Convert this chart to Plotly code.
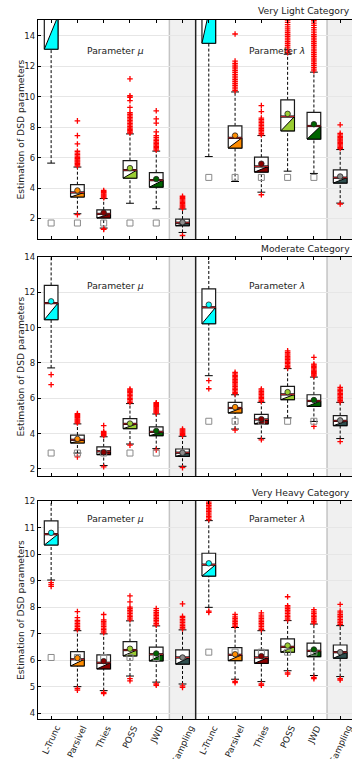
import plotly.graph_objects as go

# ---------------- data ----------------
positions = [1, 2, 3, 4, 5, 6, 7, 8, 9, 10, 11, 12]
tick_labels = ["L-Trunc", "Parsivel", "Thies", "POSS", "JWD", "Sampling",
               "L-Trunc", "Parsivel", "Thies", "POSS", "JWD", "Sampling"]
categories = ["Very Light Category", "Moderate Category", "Very Heavy Category"]
param_labels = ["Parameter <i>μ</i>", "Parameter <i>λ</i>"]

# Very Light
vl_q1 = [13.13, 3.41, 2.03, 4.65, 4.06, 1.52, 13.52, 6.63, 5.05, 7.76, 7.22, 4.33]
vl_med = [15.3, 3.71, 2.3, 5.18, 4.52, 1.72, 17.6, 7.3, 5.42, 8.7, 8.08, 4.68]
vl_q3 = [17.5, 4.22, 2.57, 5.81, 5.02, 1.96, 20.5, 8.09, 6.03, 9.8, 8.97, 5.2]
vl_lo = [5.64, 2.31, 1.37, 3.0, 2.64, 1.08, 6.07, 4.43, 3.73, 5.11, 4.96, 3.01]
vl_hi = [24.0, 5.38, 3.31, 7.56, 6.43, 2.62, 28.0, 10.32, 7.45, 12.8, 11.62, 6.53]
vl_mean = [16.2, 3.84, 2.38, 5.31, 4.59, 1.75, 18.5, 7.45, 5.6, 8.88, 8.2, 4.76]
vl_ref = [1.7, 1.7, 1.7, 1.7, 1.7, None, 4.7, 4.7, 4.7, 4.7, 4.7, None]
vl_out = [
    [],
    [5.45, 5.55, 5.62, 5.7, 5.78, 5.85, 5.93, 6.0, 6.1, 6.2, 6.3, 6.42, 6.9, 7.45, 8.42, 2.25],
    [3.36, 3.42, 3.48, 3.55, 3.62, 3.7, 3.77, 3.84, 1.32, 1.28],
    [7.62, 7.7, 7.78, 7.86, 7.95, 8.05, 8.15, 8.25, 8.35, 8.45, 8.55, 8.65, 8.75, 8.85, 8.95,
     9.3, 9.75, 9.97, 10.07, 11.18],
    [6.5, 6.58, 6.66, 6.75, 6.84, 6.93, 7.02, 7.12, 7.22, 7.33, 7.45, 7.7, 8.27, 8.55, 9.08],
    [2.68, 2.75, 2.82, 2.9, 2.98, 3.06, 3.14, 3.22, 3.3, 3.38, 3.46, 0.88],
    [],
    [10.4, 10.52, 10.64, 10.76, 10.88, 11.0, 11.12, 11.24, 11.36, 11.48, 11.6, 11.72, 11.84,
     11.96, 12.08, 12.2, 12.35, 14.13],
    [7.5, 7.6, 7.7, 7.8, 7.9, 8.0, 8.1, 8.2, 8.3, 8.4, 8.5, 8.6, 9.03, 9.42, 3.56],
    [12.9, 13.02, 13.14, 13.26, 13.38, 13.5, 13.62, 13.74, 13.86, 13.98, 14.1, 14.22, 14.34,
     14.46, 14.6, 14.75, 14.9, 15.05],
    [11.7, 11.82, 11.94, 12.06, 12.18, 12.3, 12.42, 12.54, 12.66, 12.78, 12.9, 13.02, 13.14,
     13.26, 13.38, 13.5, 13.62, 13.74, 13.86, 13.98, 14.1, 14.25, 14.4, 14.55, 14.7, 14.85, 15.0],
    [6.6, 6.68, 6.76, 6.84, 6.92, 7.0, 7.08, 7.16, 7.24, 7.32, 7.4, 7.5, 7.6, 8.16, 2.95],
]

# Moderate
md_q1 = [10.45, 3.47, 2.81, 4.28, 3.88, 2.71, 10.22, 5.17, 4.55, 5.92, 5.54, 4.45]
md_med = [11.39, 3.65, 3.0, 4.55, 4.1, 2.92, 11.15, 5.45, 4.8, 6.22, 5.85, 4.72]
md_q3 = [12.39, 3.92, 3.25, 4.85, 4.38, 3.13, 12.19, 5.77, 5.09, 6.68, 6.2, 5.02]
md_lo = [7.72, 2.9, 2.19, 3.41, 3.15, 2.15, 7.28, 4.26, 3.73, 4.89, 4.69, 3.72]
md_hi = [15.5, 4.55, 3.82, 5.7, 5.11, 3.85, 15.5, 6.2, 5.77, 7.68, 7.2, 5.77]
md_mean = [11.49, 3.7, 2.95, 4.57, 4.15, 2.92, 11.3, 5.5, 4.82, 6.35, 5.9, 4.75]
md_ref = [2.9, 2.9, 2.9, 2.9, 2.9, None, 4.7, 4.7, 4.7, 4.7, 4.7, None]
md_out = [
    [7.34, 6.77],
    [4.6, 4.66, 4.72, 4.78, 4.84, 4.9, 4.96, 5.02, 5.08, 5.13, 2.68],
    [3.88, 3.94, 4.0, 4.06, 4.12, 4.45, 2.12],
    [5.76, 5.84, 5.92, 6.0, 6.08, 6.16, 6.24, 6.32, 6.4, 6.47, 6.53, 3.35],
    [5.16, 5.22, 5.28, 5.34, 5.4, 5.46, 5.52, 5.58, 5.64, 5.7, 5.75, 3.08],
    [3.9, 3.96, 4.02, 4.08, 4.14, 4.2, 4.26, 2.07],
    [7.0, 6.54],
    [6.26, 6.34, 6.42, 6.5, 6.58, 6.66, 6.74, 6.82, 6.9, 6.98, 7.06, 7.14, 7.22, 7.3, 7.38,
     7.47, 4.2],
    [5.82, 5.9, 5.98, 6.06, 6.14, 6.22, 6.3, 6.38, 6.46, 6.53, 3.65],
    [7.72, 7.8, 7.88, 7.96, 8.04, 8.12, 8.2, 8.28, 8.36, 8.44, 8.52, 8.6, 8.69],
    [7.25, 7.32, 7.39, 7.46, 7.53, 7.6, 7.67, 7.74, 7.81, 7.88, 7.94, 8.32, 4.41],
    [5.8, 5.88, 5.96, 6.04, 6.12, 6.2, 6.28, 6.36, 6.44, 6.52, 6.62, 3.55],
]

# Very Heavy
vh_q1 = [10.34, 5.78, 5.67, 6.16, 5.97, 5.85, 9.17, 5.98, 5.88, 6.3, 6.13, 6.07]
vh_med = [10.75, 6.03, 5.9, 6.38, 6.22, 6.1, 9.6, 6.2, 6.1, 6.5, 6.35, 6.3]
vh_q3 = [11.25, 6.32, 6.2, 6.7, 6.49, 6.39, 10.03, 6.47, 6.38, 6.8, 6.64, 6.57]
vh_lo = [9.02, 5.0, 4.85, 5.4, 5.17, 5.1, 7.99, 5.28, 5.19, 5.6, 5.42, 5.38]
vh_hi = [12.6, 7.11, 6.99, 7.48, 7.29, 7.14, 11.26, 7.23, 7.11, 7.49, 7.36, 7.3]
vh_mean = [10.8, 6.08, 5.96, 6.43, 6.25, 6.1, 9.65, 6.22, 6.15, 6.55, 6.4, 6.3]
vh_ref = [6.1, 6.1, 6.1, 6.1, 6.1, None, 6.3, 6.3, 6.3, 6.3, 6.3, None]
vh_out = [
    [8.92, 8.85, 8.78],
    [7.15, 7.2, 7.26, 7.32, 7.38, 7.44, 7.5, 7.6, 7.83, 4.93, 4.87],
    [7.03, 7.09, 7.15, 7.21, 7.27, 7.33, 7.4, 7.46, 7.52, 7.72, 4.78, 4.74],
    [7.52, 7.58, 7.64, 7.7, 7.76, 7.82, 7.88, 7.94, 8.0, 8.2, 8.42, 5.3, 5.22],
    [7.32, 7.38, 7.44, 7.5, 7.56, 7.62, 7.68, 7.74, 7.8, 7.87, 7.94, 5.1, 5.05],
    [7.18, 7.24, 7.3, 7.36, 7.42, 7.48, 7.54, 7.6, 7.65, 8.12, 5.03, 4.97],
    [11.3, 11.36, 11.42, 11.48, 11.54, 11.6, 11.66, 11.72, 11.78, 11.84, 11.9, 11.96, 12.02,
     12.1, 7.85, 7.8],
    [7.27, 7.33, 7.39, 7.45, 7.51, 7.57, 7.63, 7.72, 5.2, 5.15],
    [7.15, 7.21, 7.27, 7.33, 7.39, 7.45, 7.51, 7.57, 7.63, 7.7, 7.78, 5.1, 5.05],
    [7.52, 7.58, 7.64, 7.7, 7.76, 7.82, 7.88, 7.94, 8.0, 8.05, 8.39, 5.52, 5.47],
    [7.4, 7.46, 7.52, 7.58, 7.64, 7.7, 7.76, 7.82, 7.9, 5.35, 5.3],
    [7.35, 7.41, 7.47, 7.53, 7.59, 7.65, 7.71, 7.78, 7.85, 8.1, 5.3, 5.25],
]

box_colors = ["#00FFFF", "#FF8C00", "#8B0000", "#9ACD32", "#006400", "#2F4F4F"] * 2
mean_colors = ["#00FFFF", "#FF8C00", "#8B0000", "#9ACD32", "#006400", "#8C8C8C"] * 2

panels = [
    dict(q1=vl_q1, med=vl_med, q3=vl_q3, lo=vl_lo, hi=vl_hi, mean=vl_mean, ref=vl_ref, out=vl_out,
         yrange=[0.65, 15.05], dtick=2),
    dict(q1=md_q1, med=md_med, q3=md_q3, lo=md_lo, hi=md_hi, mean=md_mean, ref=md_ref, out=md_out,
         yrange=[1.6, 14.0], dtick=2),
    dict(q1=vh_q1, med=vh_med, q3=vh_q3, lo=vh_lo, hi=vh_hi, mean=vh_mean, ref=vh_ref, out=vh_out,
         yrange=[3.78, 12.0], dtick=1),
]

# ---------------- style / layout ----------------
W, H = 352, 759
ML, MR, MT, MB = 38, 0, 20, 40
plot_h = H - MT - MB
panel_px = [(20, 239), (257, 476), (501, 719)]
domains = [[(H - MB - b) / plot_h, (H - MB - t) / plot_h] for t, b in panel_px]
title_px = [11, 248, 492]
param_y = [0.893, 0.904, 0.952]

BW = 0.26   # half box width
CW = 0.15   # half cap width
FONT = "DejaVu Sans"

fig = go.Figure()

for k, pnl in enumerate(panels):
    xa = "x" if k == 0 else f"x{k+1}"
    ya = "y" if k == 0 else f"y{k+1}"

    wx, wy, cx, cy, bx, by, mx, my = [], [], [], [], [], [], [], []
    for i, p in enumerate(positions):
        q1, md, q3 = pnl["q1"][i], pnl["med"][i], pnl["q3"][i]
        lo, hi = pnl["lo"][i], pnl["hi"][i]
        wx += [p, p, None, p, p, None]
        wy += [lo, q1, None, q3, hi, None]
        cx += [p - CW, p + CW, None, p - CW, p + CW, None]
        cy += [lo, lo, None, hi, hi, None]
        bx += [p - BW, p + BW, p + BW, p - BW, p - BW, None]
        by += [q1, q1, q3, q3, q1, None]
        mx += [p - BW, p + BW, None]
        my += [md, md, None]

    common = dict(xaxis=xa, yaxis=ya, showlegend=False, hoverinfo="skip")
    fig.add_trace(go.Scatter(x=wx, y=wy, mode="lines",
                             line=dict(color="black", width=1, dash="3px,2px"), **common))
    fig.add_trace(go.Scatter(x=cx, y=cy, mode="lines",
                             line=dict(color="black", width=1), **common))
    fig.add_trace(go.Scatter(x=bx, y=by, mode="lines", fill="toself", fillcolor="white",
                             line=dict(color="#1a1a1a", width=1.2), **common))
    for i, p in enumerate(positions):
        q1, md = pnl["q1"][i], pnl["med"][i]
        fig.add_trace(go.Scatter(x=[p - BW, p + BW, p + BW, p - BW],
                                 y=[q1, q1, md, q1], mode="lines", fill="toself",
                                 fillcolor=box_colors[i],
                                 line=dict(color="black", width=1), **common))
    fig.add_trace(go.Scatter(x=mx, y=my, mode="lines",
                             line=dict(color="black", width=2.2), **common))
    fig.add_trace(go.Scatter(x=mx, y=my, mode="lines",
                             line=dict(color="#C0262B", width=1), **common))

    ox, oy = [], []
    for i, p in enumerate(positions):
        for v in pnl["out"][i]:
            ox.append(p)
            oy.append(v)
    fig.add_trace(go.Scatter(x=ox, y=oy, mode="markers",
                             marker=dict(symbol="cross-thin", size=4,
                                         line=dict(color="red", width=1.3)), **common))
    fig.add_trace(go.Scatter(x=positions, y=pnl["ref"], mode="markers",
                             marker=dict(symbol="square-open", size=6,
                                         color="#8a8a8a", line=dict(width=1)), **common))
    fig.add_trace(go.Scatter(x=positions, y=pnl["mean"], mode="markers",
                             marker=dict(symbol="circle", size=5.5, color=mean_colors,
                                         line=dict(color="#222", width=0.8)), **common))

    # axes
    fig.update_layout(**{
        ("xaxis" if k == 0 else f"xaxis{k+1}"): dict(
            domain=[0, 1], anchor=ya, range=[0.5, 12.45],
            tickvals=positions, showticklabels=False,
            ticks="inside", ticklen=3, tickcolor="black", mirror="ticks",
            showline=True, linecolor="black", linewidth=1.2,
            showgrid=False, zeroline=False, automargin=False),
        ("yaxis" if k == 0 else f"yaxis{k+1}"): dict(
            domain=domains[k], anchor=xa, range=pnl["yrange"], dtick=pnl["dtick"],
            ticks="inside", ticklen=3, tickcolor="black",
            showline=True, linecolor="black", linewidth=1.2, mirror=False,
            showgrid=True, gridcolor="#e6e6e6", gridwidth=1.4, zeroline=False,
            automargin=False, tickfont=dict(family=FONT, size=8.5, color="#222")),
    })

    yd = "y domain" if k == 0 else f"y{k+1} domain"
    # gray bands for Sampling columns
    for x0 in (5.5, 11.5):
        fig.add_shape(type="rect", xref=xa, yref=yd, x0=x0, x1=x0 + 1.0, y0=0, y1=1,
                      fillcolor="#f0f0f0", line=dict(width=0), layer="below")
        fig.add_shape(type="line", xref=xa, yref=yd, x0=x0, x1=x0, y0=0, y1=1,
                      line=dict(color="#c4c4c4", width=1.5), layer="below")
    fig.add_shape(type="line", xref=xa, yref=yd, x0=6.5, x1=6.5, y0=0, y1=1,
                  line=dict(color="#222", width=1.5))

    # texts
    fig.add_annotation(xref="paper", yref="paper", x=1.0, y=(H - MB - title_px[k]) / plot_h,
                       xanchor="right", yanchor="middle", showarrow=False,
                       text=categories[k], font=dict(family=FONT, size=9.2, color="#222"))
    fig.add_annotation(xref=xa, yref=yd, x=3.45, y=param_y[k], showarrow=False,
                       text=param_labels[0], font=dict(family=FONT, size=9.2, color="#222"))
    fig.add_annotation(xref=xa, yref=yd, x=9.6, y=param_y[k], showarrow=False,
                       text=param_labels[1], font=dict(family=FONT, size=9.2, color="#222"))
    fig.add_annotation(xref="paper", yref="paper", x=(20 - ML) / (W - ML - MR),
                       y=sum(domains[k]) / 2, textangle=-90, showarrow=False,
                       xanchor="center", yanchor="middle",
                       text="Estimation of DSD parameters",
                       font=dict(family=FONT, size=9.2, color="#222"))

# rotated category labels under the bottom panel (centred under each tick)
for p, lab in zip(positions, tick_labels):
    fig.add_annotation(xref="x3", yref="y3 domain", x=p, y=-0.01,
                       xanchor="center", yanchor="top", textangle=-65, showarrow=False,
                       text=lab, font=dict(family=FONT, size=8.8, color="#222"))

fig.update_layout(width=W, height=H, margin=dict(l=ML, r=MR, t=MT, b=MB, pad=0),
                  paper_bgcolor="white", plot_bgcolor="white", showlegend=False,
                  font=dict(family=FONT, size=9.2, color="#222"))

fig.write_html("out.html", config={"displayModeBar": False},
               post_script="document.body.style.margin='0';"
                           "document.body.style.overflow='hidden';"
                           "document.documentElement.style.overflow='hidden';")
